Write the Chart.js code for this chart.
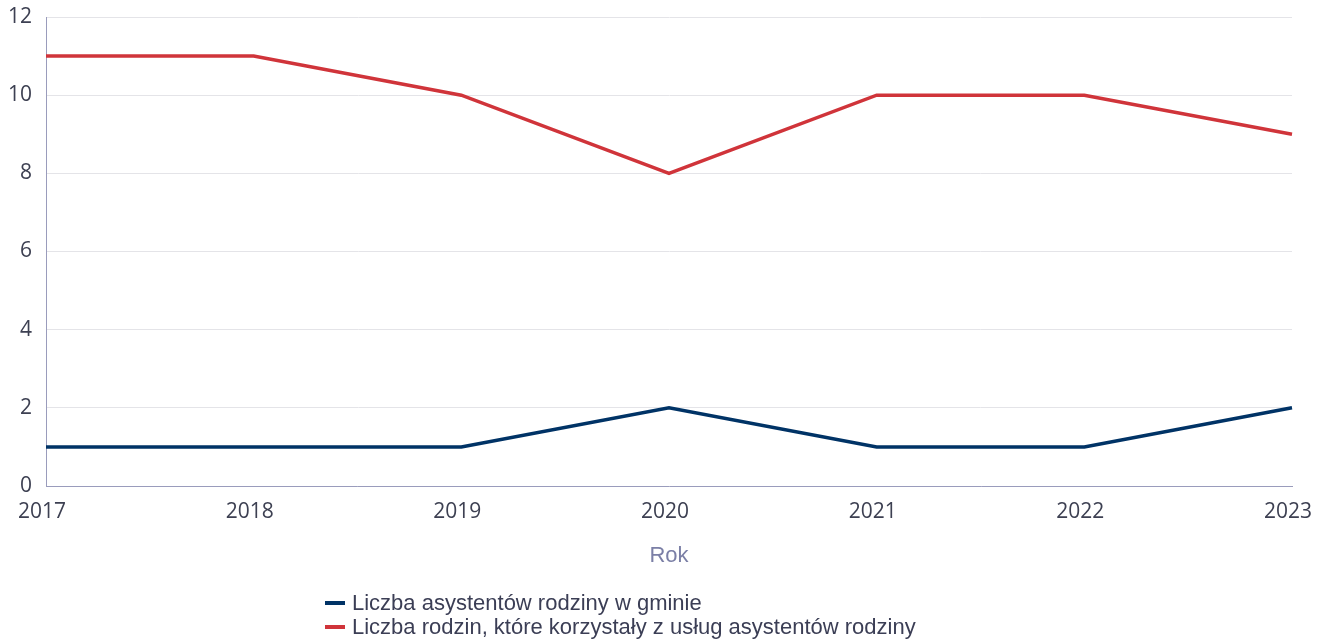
<!DOCTYPE html>
<html>
<head>
<meta charset="utf-8">
<script src="https://cdn.jsdelivr.net/npm/chart.js@4/dist/chart.umd.min.js"></script>
<style>
html,body{margin:0;padding:0;background:#fff;}
#wrap{position:relative;width:1324px;height:642px;}
#legend{position:absolute;left:325px;top:591px;font-family:"Liberation Sans",Arial,sans-serif;font-size:22px;color:#3b3e55;line-height:24px;}
#legend .it{display:flex;align-items:center;white-space:nowrap;}
#legend .mk{display:inline-block;width:20px;height:4px;margin-right:7px;}
</style>
</head>
<body>
<div id="wrap">
<canvas id="c" width="1324" height="642"></canvas>
<div id="legend"></div>
</div>
<script>
const categories = ["2017","2018","2019","2020","2021","2022","2023"];
const asystenci = [1,1,1,2,1,1,2];
const rodziny = [11,11,10,8,10,10,9];
const seriesNames = ["Liczba asystentów rodziny w gminie","Liczba rodzin, które korzystały z usług asystentów rodziny"];
const seriesColors = ["#003366","#d0343a"];
const yTicks = [0,2,4,6,8,10,12];

const tickFont = {family:"'Open Sans', sans-serif", size:21};
const chart = new Chart(document.getElementById('c'), {
  type:'line',
  data:{
    labels:categories,
    datasets:[
      {label:seriesNames[0],data:asystenci,borderColor:seriesColors[0],backgroundColor:seriesColors[0],borderWidth:3.5,pointRadius:0,tension:0},
      {label:seriesNames[1],data:rodziny,borderColor:seriesColors[1],backgroundColor:seriesColors[1],borderWidth:3.5,pointRadius:0,tension:0}
    ]
  },
  options:{
    responsive:false,
    animation:false,
    layout:{padding:{top:17,right:32,left:0,bottom:0}},
    plugins:{legend:{display:false},tooltip:{enabled:false}},
    scales:{
      x:{
        offset:false,
        grid:{display:false,drawTicks:false},
        border:{display:true,color:'#9a9cbc',width:1},
        ticks:{font:tickFont,color:'#3d4052',padding:13,labelOffset:-4,maxRotation:0,autoSkip:false},
        title:{display:true,text:'Rok',color:'#7b7fa6',font:{family:"'Liberation Sans', Arial, sans-serif",size:22},padding:{top:14,bottom:73}},
        afterFit(s){s.height=156;s.paddingLeft=0;s.paddingRight=0;}
      },
      y:{
        min:0,max:12,
        afterBuildTicks(s){s.ticks=yTicks.map(v=>({value:v}));},
        grid:{color:'#e4e4e8',drawTicks:false},
        border:{display:true,color:'#9a9cbc',width:1},
        ticks:{font:tickFont,color:'#3d4052',padding:14},
        afterFit(s){s.width=46;s.paddingTop=0;s.paddingBottom=0;}
      }
    }
  }
});

const lg=document.getElementById('legend');
chart.data.datasets.forEach(ds=>{
  const d=document.createElement('div');d.className='it';
  const m=document.createElement('span');m.className='mk';m.style.background=ds.borderColor;
  d.appendChild(m);d.appendChild(document.createTextNode(ds.label));lg.appendChild(d);
});
</script>
</body>
</html>
